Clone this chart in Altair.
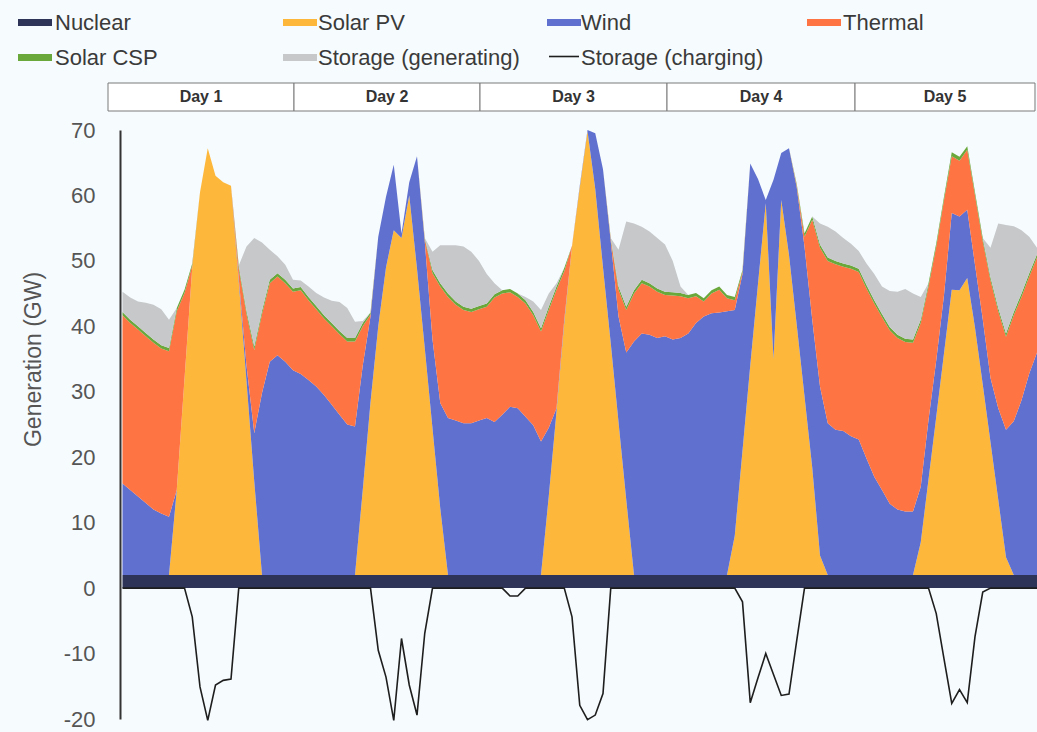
import altair as alt
import pandas as pd

# ---------------- data (GW), one value per hour, 119 hours ----------------
hours = list(range(119))

nuclear = [2, 2, 2, 2, 2, 2, 2, 2, 2, 2, 2, 2, 2, 2, 2, 2, 2, 2, 2, 2, 2, 2, 2,
           2, 2, 2, 2, 2, 2, 2, 2, 2, 2, 2, 2, 2, 2, 2, 2, 2, 2, 2, 2, 2, 2, 2, 2, 2,
           2, 2, 2, 2, 2, 2, 2, 2, 2, 2, 2, 2, 2, 2, 2, 2, 2, 2, 2, 2, 2, 2, 2, 2,
           2, 2, 2, 2, 2, 2, 2, 2, 2, 2, 2, 2, 2, 2, 2, 2, 2, 2, 2, 2, 2, 2, 2, 2,
           2, 2, 2, 2, 2, 2, 2, 2, 2, 2, 2, 2, 2, 2, 2, 2, 2, 2, 2, 2, 2, 2, 2]

solar_pv = [0, 0, 0, 0, 0, 0, 0, 13, 30, 47, 58.5, 65.2, 61, 60, 59.5, 44.8, 29.6, 14.3, 0, 0, 0, 0, 0,
            0, 0, 0, 0, 0, 0, 0, 0, 13, 26.4, 38, 47, 52.7, 51.5, 58, 46.8, 34.7, 22.4, 10.2, 0, 0, 0, 0, 0, 0,
            0, 0, 0, 0, 0, 0, 0, 12, 25, 38.5, 50.2, 59.2, 67.8, 59, 47, 35.4, 23.4, 11.5, 0, 0, 0, 0, 0, 0,
            0, 0, 0, 0, 0, 0, 0, 6, 19, 32, 44.5, 56.8, 33, 57.3, 48.9, 38.2, 27.3, 16.4, 3, 0, 0, 0, 0, 0,
            0, 0, 0, 0, 0, 0, 0, 5, 14.6, 24.2, 33.9, 43.6, 43.5, 45.4, 37.8, 29.1, 20.3, 11.5, 2.7, 0, 0, 0, 0]

wind = [14, 13, 12, 11, 10, 9.4, 8.9, 0, 0, 0, 0, 0, 0, 0, 0, 0.5, 2.4, 7.4, 27.8, 32.6, 33.6, 32.6, 31.3,
        30.7, 29.8, 28.8, 27.5, 26, 24.5, 23, 22.7, 19, 13.1, 13.7, 10.8, 10, 0.7, 2, 17.2, 16.3, 13.6, 16.1, 24, 23.6, 23.2, 23.2, 23.6, 24,
        23.4, 24.5, 25.7, 25.5, 24.2, 22.9, 20.4, 10.5, 0.5, 0.5, 0, 0.3, 0.2, 8.5, 15, 15.6, 16.1, 22.5, 35.7, 36.9, 36.7, 36.2, 36.5, 36,
        36.2, 36.9, 38.5, 39.5, 40, 40.1, 40.3, 34.5, 27, 30.9, 16, 0.5, 27.4, 7.2, 16.3, 21, 22.9, 22.6, 25.8, 23.2, 22.2, 22, 21.2, 20.7,
        17.8, 15, 13, 10.9, 10, 9.7, 9.7, 8.5, 9.1, 8.6, 8.9, 11.7, 11.3, 10.4, 9.6, 10, 9.8, 14, 19.5, 23.5, 26.7, 30.8, 34]

thermal = [25.7, 25.5, 25.5, 25.5, 25.5, 25.2, 25.3, 27.3, 13.1, 0.3, 0, 0, 0, 0, 0, 1.5, 7.9, 12.7, 12.1, 12, 12, 12, 12,
           12.8, 12.2, 11.8, 11.7, 12, 12.3, 12.7, 13, 6, 0.3, 0, 0, 0, 0, 0, 0, 0.3, 10.1, 17.8, 18.5, 17.7, 17.3, 17, 17, 17,
           19, 18.5, 17.5, 17, 17.3, 16.8, 16.8, 18, 18.1, 7.4, 0.1, 0, 0, 0, 0, 0.3, 4.1, 6.5, 7.3, 7.7, 7.4, 7.1, 6.3, 6.7,
           6.4, 5.4, 4.1, 2.3, 3, 3.5, 2, 1.5, 0.3, 0, 0, 0, 0, 0, 0, 0.3, 1.5, 15.3, 21.2, 24.8, 25.3, 25.1, 25.6, 25.6,
           26, 26.5, 26.4, 26.5, 26.2, 25.9, 25.8, 25, 20.4, 17.4, 14.5, 8.7, 8.5, 9.2, 10.6, 11.9, 14.9, 14.8, 14.2, 16.2, 15.8, 14.8, 14.5]

solar_csp = [0.5, 0.5, 0.5, 0.5, 0.5, 0.5, 0.5, 0.5, 0.5, 0.3, 0, 0, 0, 0, 0, 0.5, 0.5, 0.5, 0.5, 0.5, 0.5, 0.5, 0.5,
             0.5, 0.5, 0.5, 0.5, 0.5, 0.5, 0.5, 0.5, 0.5, 0.3, 0, 0, 0, 0, 0, 0, 0.2, 0.5, 0.5, 0.5, 0.5, 0.5, 0.5, 0.5, 0.5,
             0.5, 0.5, 0.5, 0.5, 0.5, 0.5, 0.5, 0.5, 0.5, 0.5, 0, 0, 0, 0, 0, 0.2, 0.5, 0.5, 0.5, 0.5, 0.5, 0.5, 0.5, 0.5,
             0.5, 0.5, 0.5, 0.5, 0.5, 0.5, 0.5, 0.5, 0.3, 0, 0, 0, 0, 0, 0, 0.2, 0.5, 0.5, 0.5, 0.5, 0.5, 0.5, 0.5, 0.5,
             0.5, 0.5, 0.5, 0.5, 0.5, 0.5, 0.5, 0.5, 0.5, 0.5, 0.5, 0.6, 0.6, 0.5, 0.5, 0.5, 0.5, 0.5, 0.5, 0.5, 0.5, 0.5, 0.5]

storage_gen = [3.1, 3.4, 3.8, 4.6, 5.3, 5.5, 4.3, 0, 0, 0, 0, 0, 0, 0, 0, 0, 9.8, 16.6, 10.4, 4.6, 2.6, 2.3, 1.3,
               1, 1.6, 2, 2.7, 3.4, 4.4, 4.6, 2.5, 0.3, 0, 0, 0, 0, 0, 0, 0, 0, 2.8, 5.8, 7.4, 8.6, 9.2, 8.7, 6.9, 4.5,
               1.7, 0, 0, 0, 0.5, 1.6, 2.8, 2, 0.5, 0, 0, 0, 0, 0, 0, 0, 5.6, 13, 10.2, 8.1, 7.9, 7.7, 7.2, 4.8,
               1, 0, 0, 0, 0, 0, 0, 0, 0, 0, 0, 0, 0, 0, 0, 0, 0, 0, 3.2, 4.7, 4.5, 3.9, 3.3, 2.7,
               3.3, 4, 4.2, 5.5, 6.6, 7.6, 7, 3.5, 0, 0, 0, 0, 0, 0, 0, 0, 4.5, 12.9, 16.6, 13.1, 9.7, 5.6, 1]

storage_charging = [0, 0, 0, 0, 0, 0, 0, 0, 0, -4.4, -15.1, -20.2, -14.8, -14.1, -13.9, 0, 0, 0, 0, 0, 0, 0, 0,
                    0, 0, 0, 0, 0, 0, 0, 0, 0, 0, -9.5, -13.6, -20.2, -7.7, -14.8, -19.4, -6.9, 0, 0, 0, 0, 0, 0, 0, 0,
                    0, 0, -1.2, -1.2, 0, 0, 0, 0, 0, 0, -4.4, -17.9, -20.1, -19.4, -16.1, 0, 0, 0, 0, 0, 0, 0, 0, 0,
                    0, 0, 0, 0, 0, 0, 0, 0, -2.1, -17.5, -13.7, -10, -13.2, -16.4, -16.2, -8, 0, 0, 0, 0, 0, 0, 0, 0,
                    0, 0, 0, 0, 0, 0, 0, 0, 0, -3.9, -10.8, -17.6, -15.5, -17.5, -7.4, -0.6, 0, 0, 0, 0, 0, 0, 0]

series_names = ["Nuclear", "Solar PV", "Wind", "Thermal", "Solar CSP", "Storage (generating)"]
series_colors = ["#2e3458", "#fdb83c", "#6070cf", "#fe7443", "#6aa83c", "#c6c8ca"]

day_labels = ["Day 1", "Day 2", "Day 3", "Day 4", "Day 5"]
day_start = [-1.87, 22.13, 46.13, 70.26, 94.52]
day_end = [22.13, 46.13, 70.26, 94.52, 117.74]

y_ticks = [-20, -10, 0, 10, 20, 30, 40, 50, 60, 70]

# ---------------- tables ----------------
rows = []
for k, (name, vals) in enumerate(zip(series_names,
                                     [nuclear, solar_pv, wind, thermal, solar_csp, storage_gen])):
    for h, v in zip(hours, vals):
        rows.append({"hour": h, "series": name, "value": v, "ord": k})
area_df = pd.DataFrame(rows)
charge_df = pd.DataFrame({"hour": hours, "value": storage_charging})
day_df = pd.DataFrame({"label": day_labels, "start": day_start, "end": day_end})
day_df["mid"] = (day_df["start"] + day_df["end"]) / 2

# legend layout (pixel offsets relative to the plot origin at 122,130)
leg_labels = ["Nuclear", "Solar PV", "Wind", "Thermal", "Solar CSP", "Storage (generating)"]
leg_colors = series_colors[:]
leg_cols = [0, 1, 2, 3, 0, 1]
leg_rows = [0, 0, 0, 0, 1, 1]
col_sw = [18, 283, 547, 807]
col_tx = [55, 318, 581, 843]
row_mid = [22.5, 57.5]
row_base = [30, 65]
leg_df = pd.DataFrame({
    "label": leg_labels,
    "color": leg_colors,
    "sx": [col_sw[c] - 122 for c in leg_cols],
    "sx2": [col_sw[c] + 34 - 122 for c in leg_cols],
    "sy": [row_mid[r] - 3.5 - 130 for r in leg_rows],
    "sy2": [row_mid[r] + 3.5 - 130 for r in leg_rows],
    "tx": [col_tx[c] - 122 for c in leg_cols],
    "ty": [row_base[r] - 130 for r in leg_rows],
})
leg_line_df = pd.DataFrame({
    "label": ["Storage (charging)"],
    "sx": [549 - 122], "sx2": [579 - 122],
    "sy": [56.5 - 130],
    "tx": [581 - 122], "ty": [65 - 130],
})

FONT = "Liberation Sans"
x_scale = alt.Scale(domain=[0, 118], range=[0.5, 915], nice=False, zero=False)
y_scale = alt.Scale(domain=[-20, 70], nice=False, zero=False)
y_axis = alt.Axis(values=y_ticks, grid=False, ticks=False, tickSize=0,
                  labelExpr="'' + datum.value",
                  labelFontSize=22, labelFont=FONT, labelColor="#555555", labelPadding=25,
                  labelFlush=False, domainColor="#333333", domainWidth=2, offset=2,
                  title="Generation (GW)", titleFont=FONT, titleFontSize=23,
                  titleFontWeight="normal", titleColor="#555555",
                  titleX=-87, titleY=229, titleAlign="center", titleBaseline="middle")

areas = alt.Chart(area_df).mark_area(interpolate="linear").encode(
    x=alt.X("hour:Q", scale=x_scale, axis=None),
    y=alt.Y("value:Q", stack="zero", scale=y_scale, axis=y_axis),
    color=alt.Color("series:N", scale=alt.Scale(domain=series_names, range=series_colors), legend=None),
    order=alt.Order("ord:Q", sort="ascending"),
)

charge_line = alt.Chart(charge_df).mark_line(color="#1e1e1e", strokeWidth=1.6).encode(
    x=alt.X("hour:Q", scale=x_scale, axis=None),
    y=alt.Y("value:Q", scale=y_scale, axis=y_axis),
)

header_box = alt.Chart(day_df).mark_rect(fill="#ffffff", stroke="#7a7a7a", strokeWidth=1).encode(
    x=alt.X("start:Q", scale=x_scale, axis=None),
    x2="end:Q",
    y=alt.value(-47),
    y2=alt.value(-19),
)
header_text = alt.Chart(day_df).mark_text(fontSize=16, fontWeight="bold", font=FONT,
                                          color="#333333", baseline="middle").encode(
    x=alt.X("mid:Q", scale=x_scale, axis=None),
    y=alt.value(-33),
    text="label:N",
)

leg_sw = alt.Chart(leg_df).mark_rect().encode(
    x=alt.X("sx:Q", scale=None, axis=None),
    x2="sx2:Q",
    y=alt.Y("sy:Q", scale=None, axis=None),
    y2="sy2:Q",
    color=alt.Color("color:N", scale=None, legend=None),
)
leg_tx = alt.Chart(leg_df).mark_text(align="left", baseline="alphabetic", fontSize=22,
                                     font=FONT, color="#3a3a3a").encode(
    x=alt.X("tx:Q", scale=None, axis=None),
    y=alt.Y("ty:Q", scale=None, axis=None),
    text="label:N",
)
leg_ln = alt.Chart(leg_line_df).mark_rule(color="#1e1e1e", strokeWidth=1.6).encode(
    x=alt.X("sx:Q", scale=None, axis=None),
    x2="sx2:Q",
    y=alt.Y("sy:Q", scale=None, axis=None),
)
leg_ln_tx = alt.Chart(leg_line_df).mark_text(align="left", baseline="alphabetic", fontSize=22,
                                             font=FONT, color="#3a3a3a").encode(
    x=alt.X("tx:Q", scale=None, axis=None),
    y=alt.Y("ty:Q", scale=None, axis=None),
    text="label:N",
)

chart = alt.layer(areas, charge_line, header_box, header_text,
                  leg_sw, leg_tx, leg_ln, leg_ln_tx).properties(
    width=915, height=589,
    padding={"left": 122, "top": 130, "right": 0, "bottom": 13},
    autosize=alt.AutoSizeParams(type="none"),
    background="#f6fbfd",
).configure_view(stroke=None)

chart.save("out.html", embed_options={"renderer": "svg", "actions": False})
